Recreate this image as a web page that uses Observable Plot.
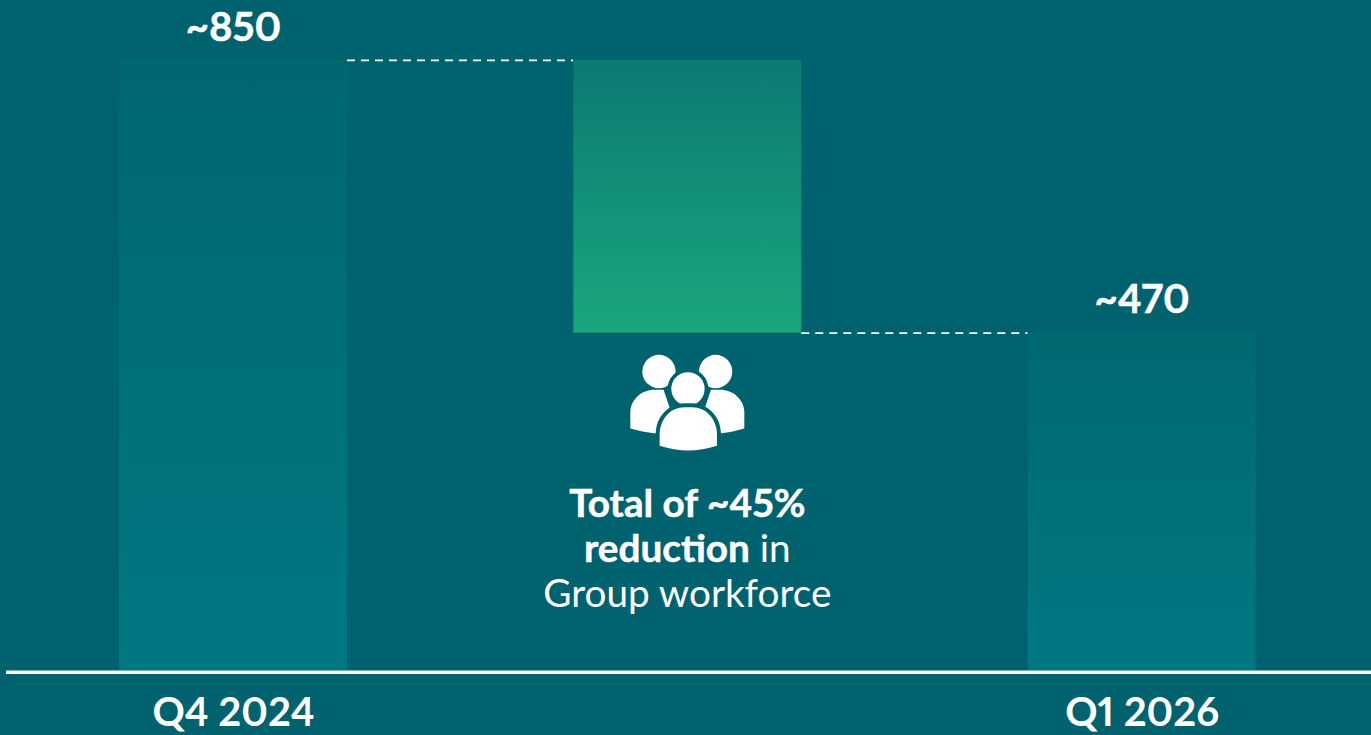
<!DOCTYPE html>
<html>
<head>
<meta charset="utf-8">
<script src="https://cdn.jsdelivr.net/npm/d3@7"></script>
<script src="https://cdn.jsdelivr.net/npm/@observablehq/plot@0.6"></script>
<style>
  html, body { margin: 0; padding: 0; background: #00626e; overflow: hidden; }
  svg { display: block; }
  svg text { font-variant-numeric: proportional-nums; }
</style>
</head>
<body>
<script>
// Group headcount bridge
const quarters = ["Q4 2024", "Reduction", "Q1 2026"];
const barStart = [0, 470, 0];
const barEnd = [850, 850, 470];
const valueLabels = ["~850", null, "~470"];
const connectors = [
  {from: "Q4 2024", to: "Reduction", level: 850},
  {from: "Reduction", to: "Q1 2026", level: 470}
];

const rows = quarters.map((quarter, i) => ({
  quarter, start: barStart[i], end: barEnd[i], label: valueLabels[i]
}));
const background = "#00626e";
const font = "Lato, 'Open Sans', sans-serif";

// Vertical gradients used by the bars
function gradients() {
  const defs = d3.create("svg:defs");
  const add = (id, top, bottom) => {
    const g = defs.append("linearGradient").attr("id", id)
      .attr("x1", 0).attr("x2", 0).attr("y1", 0).attr("y2", 1);
    g.append("stop").attr("offset", "0%").attr("stop-color", top);
    g.append("stop").attr("offset", "100%").attr("stop-color", bottom);
  };
  add("totalFill", "#006771", "#007882");
  add("shortFill", "#006972", "#007882");
  add("changeFill", "#0b7a72", "#1ba67e");
  return defs.node();
}

// Dashed connectors running between the facing edges of neighbouring bars
function connectorLines(index, {x, y}) {
  const g = d3.create("svg:g")
    .attr("stroke", "white").attr("stroke-width", 1.8).attr("stroke-dasharray", "8,6");
  for (const {from, to, level} of connectors) {
    g.append("line")
      .attr("x1", x(from) + x.bandwidth()).attr("x2", x(to))
      .attr("y1", y(level) + 0.4).attr("y2", y(level) + 0.4);
  }
  return g.node();
}

// People icon centred under the reduction bar
function peopleIcon(index, {x, y}) {
  const cx = x("Reduction") + x.bandwidth() / 2;
  const cy = y(470) + 70.5;
  const g = d3.create("svg:g")
    .attr("transform", `translate(${cx},${cy}) scale(${1 / 3}) translate(-381,-250)`)
    .attr("fill", "white");
  g.append("circle").attr("cx", 296).attr("cy", 155).attr("r", 50);
  g.append("circle").attr("cx", 466).attr("cy", 155).attr("r", 50);
  g.append("path").attr("d", "M210,326 L210,275 C212,238 245,210 282,210 L310,210 L340,300 L286,341 C258,338 234,333 210,326 Z");
  g.append("path").attr("d", "M552,326 L552,275 C550,238 517,210 480,210 L452,210 L422,300 L480,341 C506,338 530,333 552,326 Z");
  g.append("circle").attr("cx", 383).attr("cy", 207).attr("r", 50)
    .attr("stroke", background).attr("stroke-width", 22).attr("paint-order", "stroke");
  g.append("path").attr("d", "M298,378 L298,340 C300,296 332,262 372,262 L396,262 C436,262 468,296 470,340 L470,378 C412,397 356,397 298,378 Z")
    .attr("stroke", background).attr("stroke-width", 24).attr("paint-order", "stroke");
  return g.node();
}

// Three-line note with mixed weights
function note(index, {x, y}) {
  const cx = x("Reduction") + x.bandwidth() / 2;
  const top = y(470);
  const g = d3.create("svg:g")
    .attr("text-anchor", "middle").attr("fill", "white")
    .attr("font-family", font).attr("font-size", 38.7);
  g.append("text").attr("x", cx).attr("y", top + 184)
    .attr("font-weight", 700).attr("stroke", "white").attr("stroke-width", 0.5).text("Total of ~45%");
  const second = g.append("text").attr("x", cx).attr("y", top + 229);
  second.append("tspan").attr("font-weight", 700).attr("stroke", "white").attr("stroke-width", 0.5).text("reduction");
  second.append("tspan").text(" in");
  g.append("text").attr("x", cx).attr("y", top + 274).text("Group workforce");
  return g.node();
}

const chart = Plot.plot({
  width: 1371,
  height: 735,
  marginLeft: 6,
  marginRight: 0,
  marginTop: 60,
  marginBottom: 65,
  style: {background, fontFamily: font, color: "white"},
  x: {type: "band", domain: quarters, range: [119, 1255.6], paddingInner: 0.4983, paddingOuter: 0, round: false, label: null},
  y: {domain: [0, 850], axis: null},
  marks: [
    gradients,
    connectorLines,
    Plot.barY(rows.filter(d => d.quarter === "Q4 2024"), {x: "quarter", y1: "start", y2: "end", fill: "url(#totalFill)"}),
    Plot.barY(rows.filter(d => d.quarter === "Reduction"), {x: "quarter", y1: "start", y2: "end", fill: "url(#changeFill)"}),
    Plot.barY(rows.filter(d => d.quarter === "Q1 2026"), {x: "quarter", y1: "start", y2: "end", fill: "url(#shortFill)"}),
    Plot.ruleY([0], {stroke: "white", strokeWidth: 3.5, dy: 1.75}),
    Plot.text(rows.filter(d => d.label), {
      x: "quarter", y: "end", text: "label",
      fill: "white", stroke: "white", strokeWidth: 0.5,
      fontSize: 40, fontWeight: 700, lineAnchor: "bottom", dy: -20
    }),
    Plot.axisX({
      ticks: [quarters[0], quarters[2]],
      tickSize: 0, tickPadding: 27, label: null,
      fontSize: 40, fontWeight: 700, fill: "white", color: "white", stroke: "white", strokeWidth: 0.5
    }),
    peopleIcon,
    note
  ]
});
document.body.appendChild(chart);
</script>
</body>
</html>
